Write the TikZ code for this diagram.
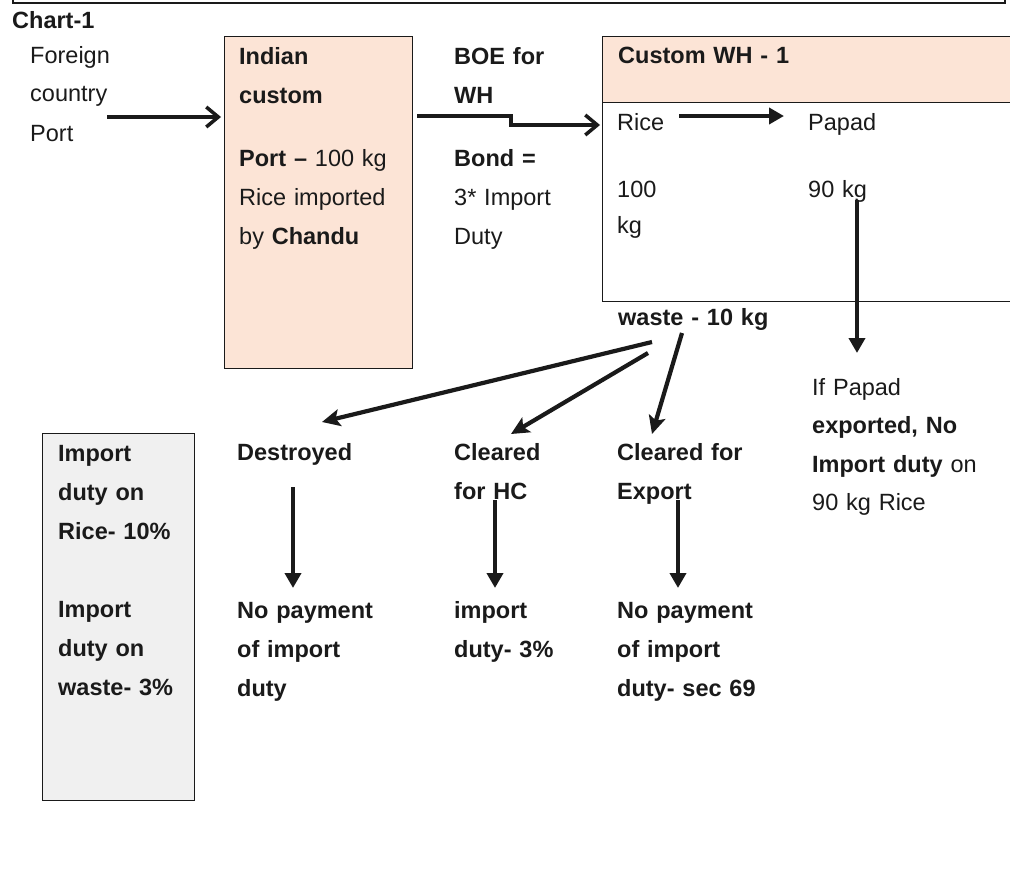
\documentclass[tikz,border=0pt]{standalone}
\usepackage{fontspec}
\setmainfont{Liberation Sans}
\usetikzlibrary{arrows.meta}
\definecolor{peach}{HTML}{FCE4D6}
\definecolor{lgray}{HTML}{F0F0F0}
\definecolor{ink}{HTML}{1A1A1A}
\begin{document}
\begin{tikzpicture}[x=1pt,y=-1pt,
  txt/.style={anchor=base west, inner sep=0pt, text width=#1, align=left,
    font=\fontsize{23.5}{39}\selectfont, text=ink},
  txt/.default=200pt,
  box/.style={draw=ink, line width=1.3pt, inner sep=0pt, anchor=north west},
  chev/.style={draw=ink, line width=4.2pt, -{Straight Barb[length=12pt,width=20pt,line width=3.5pt]}},
  tri/.style={draw=ink, line width=4.5pt, -{Triangle[length=15pt,width=16pt]}},
  stl/.style={draw=ink, line width=4.2pt, -{Stealth[length=18pt,width=17pt,inset=4pt]}},
]
\useasboundingbox (0,0) rectangle (1010,870);
\fill[white] (0,0) rectangle (1010,870);
% top border (cut-off box)
\draw[ink, line width=1.5pt] (13,-3) -- (13,3) -- (1005,3) -- (1005,-3);

% boxes
\node[box, fill=peach, minimum width=188pt, minimum height=332pt] (indian) at (224,36) {};
\node[box, fill=lgray, minimum width=152pt, minimum height=367pt] (rates) at (42,433) {};
\begin{scope}
\clip (0,0) rectangle (1010,870);
\node[box, fill=peach, minimum width=430pt, minimum height=66pt] (whhead) at (602,36) {};
\node[box, fill=white, minimum width=430pt, minimum height=199pt] (whbody) at (602,102) {};
\end{scope}

% texts
\node[txt, font=\fontsize{23.5}{39}\selectfont\bfseries] (chart) at (12,28) {Chart-1};
\node[txt=120pt] (foreign) at (30,63) {Foreign\\country\\Port};
\node[txt=180pt] (indiantxt) at (239,64) {\textbf{Indian}\\\textbf{custom}\\[24pt]\textbf{Port –} 100 kg\\Rice imported\\by \textbf{Chandu}};
\node[txt=140pt] (boe) at (454,64) {\textbf{BOE for}\\\textbf{WH}\\[24pt]\textbf{Bond =}\\3* Import\\Duty};
\node[txt=300pt] (whtitle) at (618,63) {\textbf{Custom WH - 1}};
\node[txt=80pt] (rice) at (617,130) {Rice};
\node[txt=100pt] (papad) at (808,130) {Papad};
\node[txt=80pt, font=\fontsize{23.5}{36}\selectfont] (hundred) at (617,197) {100\\kg};
\node[txt=100pt] (ninety) at (808,197) {90 kg};
\node[txt=200pt, font=\fontsize{23.5}{36}\selectfont\bfseries] (waste) at (618,325) {waste - 10 kg};
\node[txt=200pt, font=\fontsize{23.5}{38.5}\selectfont] (ifpapad) at (812,395) {If Papad\\\textbf{exported, No}\\\textbf{Import duty} on\\90 kg Rice};
\node[txt=140pt] (ratestxt) at (58,461) {\textbf{Import}\\\textbf{duty on}\\\textbf{Rice- 10\%}\\[39pt]\textbf{Import}\\\textbf{duty on}\\\textbf{waste- 3\%}};
\node[txt=180pt] (destroyed) at (237,460) {\textbf{Destroyed}};
\node[txt=150pt] (hc) at (454,460) {\textbf{Cleared}\\\textbf{for HC}};
\node[txt=180pt] (export) at (617,460) {\textbf{Cleared for}\\\textbf{Export}};
\node[txt=190pt] (nopay1) at (237,618) {\textbf{No payment}\\\textbf{of import}\\\textbf{duty}};
\node[txt=150pt] (hcduty) at (454,618) {\textbf{import}\\\textbf{duty- 3\%}};
\node[txt=190pt] (nopay2) at (617,618) {\textbf{No payment}\\\textbf{of import}\\\textbf{duty- sec 69}};

% connector end points
\coordinate (a1s) at (107,117);
\coordinate (a1e) at (221,117);
\coordinate (b1s) at (417,116);
\coordinate (b1m) at (511,116);
\coordinate (b1n) at (511,125);
\coordinate (b1e) at (600,125);
\coordinate (r1s) at (679,116);
\coordinate (r1e) at (784,116);
\coordinate (p1s) at (857,200);
\coordinate (p1e) at (857,353);
\coordinate (w1s) at (652,342);
\coordinate (w1e) at (322,422);
\coordinate (w2s) at (648,353);
\coordinate (w2e) at (511,434);
\coordinate (w3s) at (682,333);
\coordinate (w3e) at (652,434);
\coordinate (d1s) at (293,487);
\coordinate (d1e) at (293,588);
\coordinate (d2s) at (495,500);
\coordinate (d2e) at (495,588);
\coordinate (d3s) at (678,500);
\coordinate (d3e) at (678,588);

% connectors
\draw[chev] (a1s) -- (a1e);
\draw[chev, line width=3.5pt] (b1s) -- (b1m) -- (b1n) -- (b1e);
\draw[tri, line width=4pt] (r1s) -- (r1e);
\draw[tri] (p1s) -- (p1e);
\draw[stl] (w1s) -- (w1e);
\draw[stl] (w2s) -- (w2e);
\draw[stl] (w3s) -- (w3e);
\draw[tri] (d1s) -- (d1e);
\draw[tri] (d2s) -- (d2e);
\draw[tri] (d3s) -- (d3e);
\end{tikzpicture}
\end{document}
